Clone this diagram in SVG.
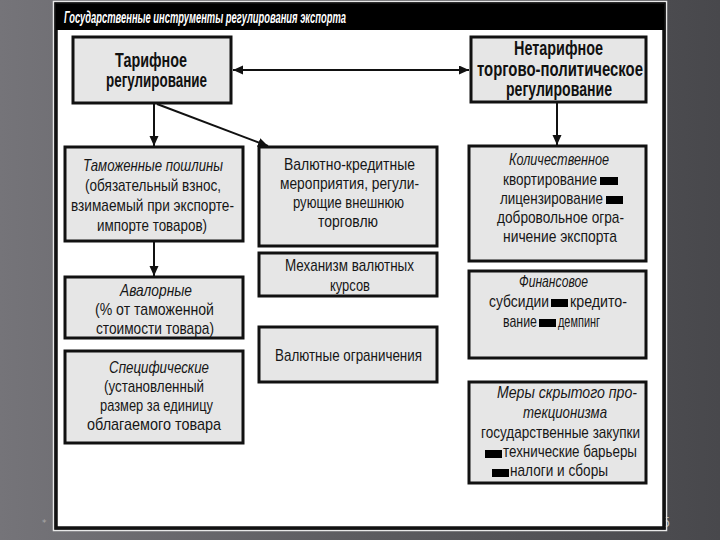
<svg xmlns="http://www.w3.org/2000/svg" width="720" height="540" viewBox="0 0 720 540">
<style>
.box{fill:#e6e6e6;stroke:#111;stroke-width:3}
.t{font-family:"Liberation Sans",Arial,sans-serif;font-size:17px;fill:#161616}
.i{font-style:italic}
.h{font-family:"Liberation Sans",Arial,sans-serif;font-size:19.5px;font-weight:bold;fill:#111}
.title{font-family:"Liberation Sans",Arial,sans-serif;font-size:17px;font-weight:bold;font-style:italic;fill:#fff}
.c{stroke:#111;stroke-width:2;fill:none}
.sq{fill:#000}
</style>
<defs>
<linearGradient id="bg" x1="0" y1="0" x2="1" y2="0">
<stop offset="0" stop-color="#757479"/>
<stop offset="0.5" stop-color="#5c5c60"/>
<stop offset="1" stop-color="#48484c"/>
</linearGradient>
<marker id="ah" markerUnits="userSpaceOnUse" markerWidth="11" markerHeight="10" refX="10" refY="4.5" orient="auto-start-reverse">
<path d="M0,0 L10,4.5 L0,9 z" fill="#111"/>
</marker>
</defs>
<rect x="0" y="0" width="720" height="540" fill="url(#bg)"/>
<text x="42" y="526" font-family="DejaVu Sans,sans-serif" font-size="9" fill="#a8a8a8">*</text>
<text x="662" y="527" font-family="Liberation Sans,sans-serif" font-size="14" fill="#bdbdbd">5</text>
<rect x="53.5" y="1.5" width="613" height="529" fill="none" stroke="#e8e8e8" stroke-width="1.5"/>
<rect x="56" y="4" width="608" height="524" fill="#fff" stroke="#111" stroke-width="3.5"/>
<rect x="56" y="4" width="608" height="26" fill="#000"/>
<text class="title" x="64" y="23" textLength="282" lengthAdjust="spacingAndGlyphs">Государственные инструменты регулирования экспорта</text>

<g id="connectors">
<line class="c" x1="233" y1="70" x2="469" y2="70" marker-start="url(#ah)" marker-end="url(#ah)"/>
<line class="c" x1="154" y1="104" x2="154" y2="146" marker-end="url(#ah)"/>
<line class="c" x1="157" y1="104" x2="268" y2="146" marker-end="url(#ah)"/>
<line class="c" x1="154" y1="242" x2="154" y2="276" marker-end="url(#ah)"/>
<line class="c" x1="557" y1="103" x2="557" y2="145" marker-end="url(#ah)"/>
</g>

<g id="tarif">
<rect class="box" x="73" y="37" width="158" height="66"/>
<text class="h" x="115" y="67" textLength="72" lengthAdjust="spacingAndGlyphs">Тарифное</text>
<text class="h" x="106" y="87" textLength="101" lengthAdjust="spacingAndGlyphs">регулирование</text>
</g>

<g id="netarif">
<rect class="box" x="471" y="37" width="175" height="65"/>
<text class="h" x="514" y="55" textLength="89" lengthAdjust="spacingAndGlyphs">Нетарифное</text>
<text class="h" x="477" y="76" textLength="166" lengthAdjust="spacingAndGlyphs">торгово-политическое</text>
<text class="h" x="506" y="96" textLength="106" lengthAdjust="spacingAndGlyphs">регулирование</text>
</g>

<g id="tamozh">
<rect class="box" x="65" y="147" width="178" height="94"/>
<text class="t i" x="83" y="171" textLength="140" lengthAdjust="spacingAndGlyphs">Таможенные пошлины</text>
<text class="t" x="85" y="191" textLength="136" lengthAdjust="spacingAndGlyphs">(обязательный взнос,</text>
<text class="t" x="71" y="211" textLength="163" lengthAdjust="spacingAndGlyphs">взимаемый при экспорте-</text>
<text class="t" x="97" y="231" textLength="110" lengthAdjust="spacingAndGlyphs">импорте товаров)</text>
</g>

<g id="avalor">
<rect class="box" x="65" y="277" width="178" height="61"/>
<text class="t i" x="120" y="296" textLength="72" lengthAdjust="spacingAndGlyphs">Авалорные</text>
<text class="t" x="95" y="315" textLength="119" lengthAdjust="spacingAndGlyphs">(% от таможенной</text>
<text class="t" x="96" y="334" textLength="118" lengthAdjust="spacingAndGlyphs">стоимости товара)</text>
</g>

<g id="specif">
<rect class="box" x="65" y="351" width="178" height="92"/>
<text class="t i" x="109" y="373" textLength="100" lengthAdjust="spacingAndGlyphs">Специфические</text>
<text class="t" x="104" y="392" textLength="100" lengthAdjust="spacingAndGlyphs">(установленный</text>
<text class="t" x="100" y="411" textLength="113" lengthAdjust="spacingAndGlyphs">размер за единицу</text>
<text class="t" x="87" y="430" textLength="134" lengthAdjust="spacingAndGlyphs">облагаемого товара</text>
</g>

<g id="valkred">
<rect class="box" x="259" y="147" width="178" height="99"/>
<text class="t" x="284" y="170" textLength="131" lengthAdjust="spacingAndGlyphs">Валютно-кредитные</text>
<text class="t" x="280" y="189" textLength="139" lengthAdjust="spacingAndGlyphs">мероприятия, регули-</text>
<text class="t" x="293" y="208" textLength="111" lengthAdjust="spacingAndGlyphs">рующие внешнюю</text>
<text class="t" x="318" y="227" textLength="60" lengthAdjust="spacingAndGlyphs">торговлю</text>
</g>

<g id="mehanizm">
<rect class="box" x="259" y="253" width="178" height="43"/>
<text class="t" x="285" y="271" textLength="129" lengthAdjust="spacingAndGlyphs">Механизм валютных</text>
<text class="t" x="330" y="291" textLength="40" lengthAdjust="spacingAndGlyphs">курсов</text>
</g>

<g id="valogr">
<rect class="box" x="259" y="327" width="178" height="55"/>
<text class="t" x="275" y="361" textLength="147" lengthAdjust="spacingAndGlyphs">Валютные ограничения</text>
</g>

<g id="kolich">
<rect class="box" x="469" y="146" width="177" height="115"/>
<text class="t i" x="509" y="165" textLength="100" lengthAdjust="spacingAndGlyphs">Количественное</text>
<text class="t" x="503" y="185" textLength="94" lengthAdjust="spacingAndGlyphs">квортирование</text>
<rect class="sq" x="600" y="177" width="18" height="8"/>
<text class="t" x="500" y="204" textLength="103" lengthAdjust="spacingAndGlyphs">лицензирование</text>
<rect class="sq" x="606" y="196" width="17" height="8"/>
<text class="t" x="497" y="223" textLength="127" lengthAdjust="spacingAndGlyphs">добровольное огра-</text>
<text class="t" x="503" y="242" textLength="114" lengthAdjust="spacingAndGlyphs">ничение экспорта</text>
</g>

<g id="finans">
<rect class="box" x="469" y="271" width="177" height="87"/>
<text class="t i" x="519" y="287" textLength="69" lengthAdjust="spacingAndGlyphs">Финансовое</text>
<text class="t" x="489" y="307" textLength="60" lengthAdjust="spacingAndGlyphs">субсидии</text>
<rect class="sq" x="551" y="299" width="17" height="8"/>
<text class="t" x="570" y="307" textLength="57" lengthAdjust="spacingAndGlyphs">кредито-</text>
<text class="t" x="503" y="327" textLength="34" lengthAdjust="spacingAndGlyphs">вание</text>
<rect class="sq" x="539" y="319" width="17" height="8"/>
<text class="t" x="558" y="327" textLength="42" lengthAdjust="spacingAndGlyphs">демпинг</text>
</g>

<g id="mery">
<rect class="box" x="469" y="382" width="177" height="101"/>
<text class="t i" x="497" y="398" textLength="140" lengthAdjust="spacingAndGlyphs">Меры скрытого про-</text>
<text class="t i" x="523" y="418" textLength="84" lengthAdjust="spacingAndGlyphs">текционизма</text>
<text class="t" x="481" y="438" textLength="159" lengthAdjust="spacingAndGlyphs">государственные закупки</text>
<rect class="sq" x="485" y="450" width="17" height="8"/>
<text class="t" x="503" y="457" textLength="134" lengthAdjust="spacingAndGlyphs">технические барьеры</text>
<rect class="sq" x="492" y="469" width="17" height="8"/>
<text class="t" x="510" y="476" textLength="98" lengthAdjust="spacingAndGlyphs">налоги и сборы</text>
</g>
</svg>
